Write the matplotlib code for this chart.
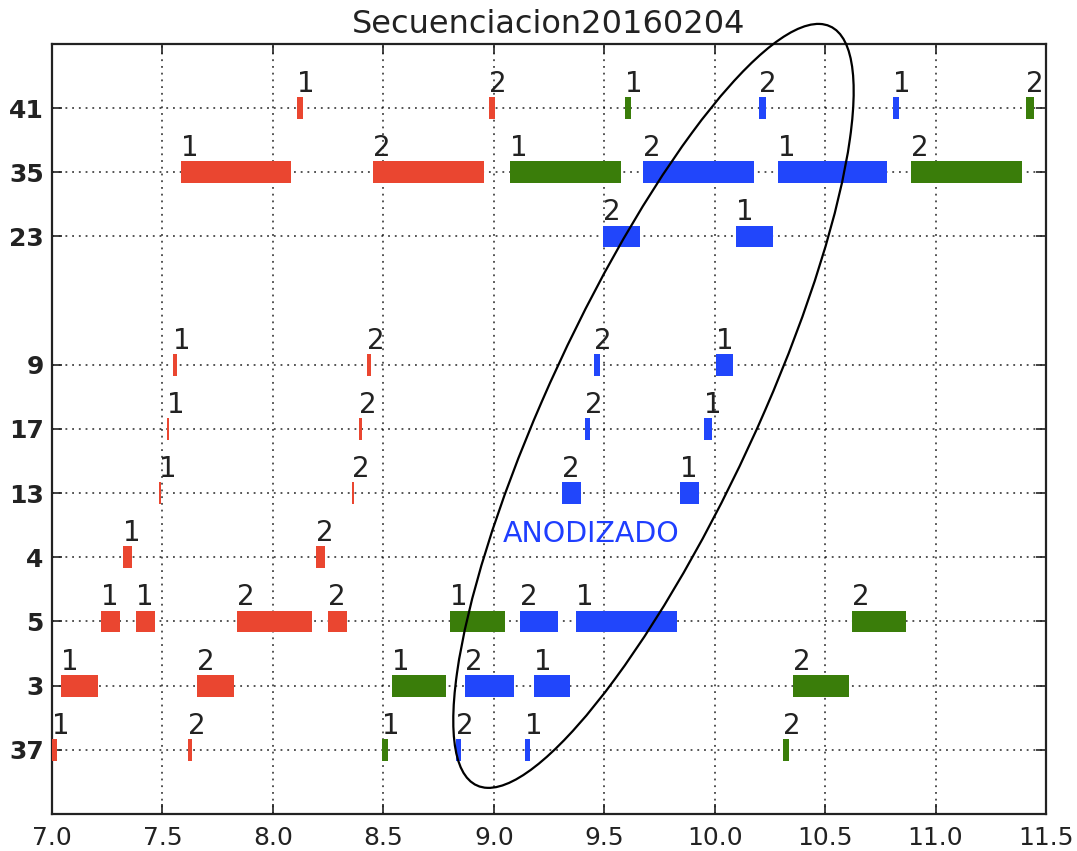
import matplotlib
matplotlib.use("Agg")
import matplotlib.pyplot as plt
from matplotlib.patches import Ellipse

# Rows (piece ids) and their vertical positions
row_labels = ['37', '3', '5', '4', '13', '17', '9', '23', '35', '41']
row_pos = [1, 2, 3, 4, 5, 6, 7, 9, 10, 11]

# Segments: row id, start time, end time, process group, pass number
seg_row = (['37'] * 6 + ['3'] * 6 + ['5'] * 8 + ['4'] * 2 + ['13'] * 4 +
           ['17'] * 4 + ['9'] * 4 + ['23'] * 2 + ['35'] * 6 + ['41'] * 6)
seg_start = [7.000, 7.614, 8.492, 8.828, 9.141, 10.308,
             7.039, 7.657, 8.537, 8.869, 9.180, 10.353,
             7.221, 7.382, 7.839, 8.251, 8.804, 9.117, 9.372, 10.620,
             7.323, 8.196,
             7.483, 8.356, 9.307, 9.843,
             7.519, 8.392, 9.414, 9.953,
             7.547, 8.427, 9.452, 10.006,
             9.494, 10.096,
             7.584, 8.455, 9.073, 9.675, 10.288, 10.890,
             8.107, 8.978, 9.595, 10.199, 10.806, 11.411]
seg_end = [7.021, 7.635, 8.519, 8.852, 9.166, 10.335,
           7.207, 7.823, 8.783, 9.092, 9.347, 10.607,
           7.307, 7.468, 8.179, 8.337, 9.050, 9.289, 9.829, 10.866,
           7.364, 8.236,
           7.495, 8.368, 9.393, 9.929,
           7.531, 8.404, 9.435, 9.988,
           7.568, 8.442, 9.480, 10.083,
           9.660, 10.264,
           8.082, 8.957, 9.574, 10.176, 10.780, 11.390,
           8.135, 9.006, 9.619, 10.231, 10.835, 11.444]
seg_group = ['r', 'r', 'g', 'b', 'b', 'g',
             'r', 'r', 'g', 'b', 'b', 'g',
             'r', 'r', 'r', 'r', 'g', 'b', 'b', 'g',
             'r', 'r',
             'r', 'r', 'b', 'b',
             'r', 'r', 'b', 'b',
             'r', 'r', 'b', 'b',
             'b', 'b',
             'r', 'r', 'g', 'b', 'b', 'g',
             'r', 'r', 'g', 'b', 'b', 'g']
seg_tag = ['1', '2', '1', '2', '1', '2',
           '1', '2', '1', '2', '1', '2',
           '1', '1', '2', '2', '1', '2', '1', '2',
           '1', '2',
           '1', '2', '2', '1',
           '1', '2', '2', '1',
           '1', '2', '2', '1',
           '2', '1',
           '1', '2', '1', '2', '1', '2',
           '1', '2', '1', '2', '1', '2']

group_colors = {'r': '#EA4630', 'g': '#3A7D0A', 'b': '#2146FB'}

x_ticks = [7.0, 7.5, 8.0, 8.5, 9.0, 9.5, 10.0, 10.5, 11.0, 11.5]

fig = plt.figure(figsize=(10.77, 8.51), dpi=100)
ax = fig.add_axes([0.0483, 0.0435, 0.9229, 0.9048])

pos_of = dict(zip(row_labels, row_pos))
bar_h = 0.34
for r, s, e, g, t in zip(seg_row, seg_start, seg_end, seg_group, seg_tag):
    y = pos_of[r]
    ax.barh(y, e - s, left=s, height=bar_h, color=group_colors[g],
            edgecolor='none', zorder=3)
    ax.text(s, y + 0.25, t, ha='left', va='baseline', fontsize=20,
            color='#222222', zorder=4)

ax.add_patch(Ellipse((9.723, 6.36), width=12.0, height=1.02, angle=82.8,
                     fill=False, edgecolor='black', linewidth=1.6,
                     clip_on=False, zorder=5))

ax.text(9.04, 4.235, 'ANODIZADO', color='#1F3EFF', fontsize=20.5,
        ha='left', va='baseline', zorder=4)

ax.set_xlim(7.0, 11.5)
ax.set_ylim(0, 12)
ax.set_xticks(x_ticks)
ax.set_xticklabels([f'{v:.1f}' for v in x_ticks], fontsize=18)
ax.set_yticks(row_pos)
ax.set_yticklabels(row_labels, fontsize=18, fontweight='bold')
ax.tick_params(direction='in', length=7, width=1.2, top=True, right=True,
               colors='#222222')
ax.tick_params(axis='x', pad=9)
ax.tick_params(axis='y', pad=6)
ax.grid(True, color='black', linestyle=(0, (1.2, 3.2)), linewidth=1.1,
        alpha=0.85, zorder=1)
ax.set_axisbelow(True)
for sp in ax.spines.values():
    sp.set_linewidth(1.6)
    sp.set_color('#222222')

ax.set_title('Secuenciacion20160204', fontsize=23, pad=8, color='#222222')

fig.savefig('out.png', dpi=100)
